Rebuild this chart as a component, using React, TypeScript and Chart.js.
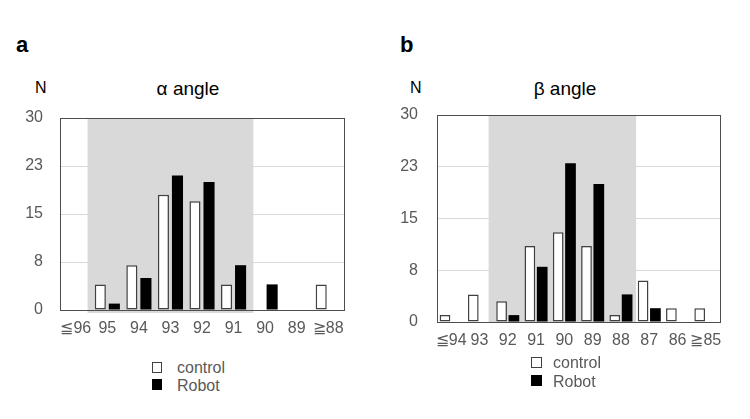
import React, { useEffect, useRef } from 'react';
import { Chart, registerables } from 'chart.js';

Chart.register(...registerables);

const FONT = '"Liberation Sans", Arial, Helvetica, sans-serif';

// Panel a: α angle
const alphaCategories = ['≦96', '95', '94', '93', '92', '91', '90', '89', '≧88'];
const alphaControl = [0, 4, 7, 18, 17, 4, 0, 0, 4];
const alphaRobot = [0, 1, 5, 21, 20, 7, 4, 0, 0];

// Panel b: β angle
const betaCategories = ['≦94', '93', '92', '91', '90', '89', '88', '87', '86', '≧85'];
const betaControl = [1, 4, 3, 11, 13, 11, 1, 6, 2, 2];
const betaRobot = [0, 0, 1, 8, 23, 20, 4, 2, 0, 0];

// Shared y axis
const yTickValues = [0, 7.5, 15, 22.5, 30];
const yTickLabels = ['0', '8', '15', '23', '30'];

const seriesNames = ['control', 'Robot'];

type PanelOpts = {
  categories: string[];
  control: number[];
  robot: number[];
  shadeFrom: number;
  shadeTo: number;
  shadePadL: number;
  shadePadR: number;
  shadeBelow: number;
  yWidth: number;
  yPad: number;
  padTop: number;
  padRight: number;
  catPct: number;
  barPct: number;
};

function buildConfig(o: PanelOpts): any {
  const shadePlugin = {
    id: 'shade',
    beforeDatasetsDraw(chart: any) {
      const { ctx, chartArea, scales } = chart;
      const xs = scales.x;
      const cw = xs.width / o.categories.length;
      const x0 = xs.getPixelForValue(o.shadeFrom) - cw / 2 - o.shadePadL;
      const x1 = xs.getPixelForValue(o.shadeTo) + cw / 2 + o.shadePadR;
      ctx.save();
      ctx.fillStyle = '#d9d9d9';
      ctx.fillRect(x0, chartArea.top, x1 - x0, chartArea.bottom - chartArea.top + o.shadeBelow);
      ctx.restore();
    },
  };
  const framePlugin = {
    id: 'frame',
    afterDatasetsDraw(chart: any) {
      const { ctx, chartArea } = chart;
      ctx.save();
      ctx.strokeStyle = '#4d4d4d';
      ctx.lineWidth = 1;
      ctx.strokeRect(
        Math.round(chartArea.left) + 0.5,
        Math.round(chartArea.top) + 0.5,
        Math.round(chartArea.right - chartArea.left),
        Math.round(chartArea.bottom - chartArea.top)
      );
      ctx.restore();
    },
  };
  return {
    type: 'bar',
    data: {
      labels: o.categories,
      datasets: [
        {
          label: seriesNames[0],
          data: o.control.map((v) => (v === 0 ? null : v)),
          backgroundColor: '#ffffff',
          borderColor: '#404040',
          borderWidth: 1.5,
          borderSkipped: false,
          categoryPercentage: o.catPct,
          barPercentage: o.barPct,
        },
        {
          label: seriesNames[1],
          data: o.robot.map((v) => (v === 0 ? null : v)),
          backgroundColor: '#000000',
          borderColor: '#000000',
          borderWidth: 0,
          categoryPercentage: o.catPct,
          barPercentage: o.barPct,
        },
      ],
    },
    options: {
      animation: false,
      responsive: false,
      maintainAspectRatio: false,
      layout: { padding: { top: o.padTop, right: o.padRight, left: 0, bottom: 0 } },
      plugins: {
        legend: { display: false },
        title: { display: false },
        tooltip: { enabled: false },
      },
      scales: {
        x: {
          grid: { display: false, drawTicks: false },
          border: { display: true, color: '#4d4d4d', width: 1 },
          ticks: {
            color: '#595959',
            font: { size: 16, family: FONT },
            padding: 9,
            maxRotation: 0,
            autoSkip: false,
          },
          afterFit: (s: any) => {
            s.height = 35;
          },
        },
        y: {
          min: 0,
          max: 30,
          afterBuildTicks: (s: any) => {
            s.ticks = yTickValues.map((v) => ({ value: v }));
          },
          grid: {
            color: '#d9d9d9',
            drawTicks: true,
            tickLength: o.yPad,
            tickColor: 'rgba(0,0,0,0)',
            lineWidth: 1,
          },
          border: { display: true, color: '#4d4d4d', width: 1 },
          ticks: {
            color: '#595959',
            font: { size: 16, family: FONT },
            padding: 0,
            callback: (_v: any, i: number) => yTickLabels[i],
          },
          afterFit: (s: any) => {
            s.width = o.yWidth;
          },
        },
      },
    },
    plugins: [shadePlugin, framePlugin],
  };
}

function Panel(props: { opts: PanelOpts; left: number; top: number; width: number; height: number }) {
  const ref = useRef<HTMLCanvasElement | null>(null);
  useEffect(() => {
    if (!ref.current) return;
    const chart = new Chart(ref.current, buildConfig(props.opts));
    return () => chart.destroy();
  }, []);
  return (
    <canvas
      ref={ref}
      width={props.width}
      height={props.height}
      style={{ position: 'absolute', left: props.left, top: props.top, width: props.width, height: props.height }}
    />
  );
}

function Text(props: { left: number; top: number; size: number; bold?: boolean; color?: string; children: any; center?: boolean }) {
  return (
    <div
      style={{
        position: 'absolute',
        left: props.left,
        top: props.top,
        fontSize: props.size,
        lineHeight: props.size + 'px',
        fontWeight: props.bold ? 700 : 400,
        color: props.color || '#000',
        whiteSpace: 'nowrap',
        transform: props.center ? 'translateX(-50%)' : undefined,
      }}
    >
      {props.children}
    </div>
  );
}

function Legend(props: { boxLeft: number; boxTops: number[]; textLeft: number; textTops: number[]; boxW: number; boxH: number }) {
  return (
    <>
      {seriesNames.map((name, i) => (
        <React.Fragment key={name}>
          <div
            style={{
              position: 'absolute',
              left: props.boxLeft,
              top: props.boxTops[i],
              width: props.boxW,
              height: props.boxH,
              boxSizing: 'border-box',
              border: '1px solid ' + (i === 0 ? '#404040' : '#000'),
              background: i === 0 ? '#fff' : '#000',
            }}
          />
          <Text left={props.textLeft} top={props.textTops[i]} size={16} color="#595959">
            {name}
          </Text>
        </React.Fragment>
      ))}
    </>
  );
}

const alphaOpts: PanelOpts = {
  categories: alphaCategories,
  control: alphaControl,
  robot: alphaRobot,
  shadeFrom: 1,
  shadeTo: 5,
  shadePadL: 4,
  shadePadR: 4,
  shadeBelow: 3,
  yWidth: 60,
  yPad: 17,
  padTop: 18,
  padRight: 26,
  catPct: 0.89,
  barPct: 0.79,
};

const betaOpts: PanelOpts = {
  categories: betaCategories,
  control: betaControl,
  robot: betaRobot,
  shadeFrom: 2,
  shadeTo: 6,
  shadePadL: 5,
  shadePadR: 1,
  shadeBelow: 0,
  yWidth: 62,
  yPad: 19,
  padTop: 15,
  padRight: 25,
  catPct: 0.87,
  barPct: 0.87,
};

export default function App() {
  return (
    <div
      style={{
        position: 'fixed',
        left: 0,
        top: 0,
        width: 750,
        height: 419,
        background: '#fff',
        fontFamily: FONT,
        overflow: 'hidden',
      }}
    >
      <Text left={16} top={34} size={22} bold>
        a
      </Text>
      <Text left={400} top={34} size={22} bold>
        b
      </Text>
      <Text left={35} top={79.5} size={16}>
        N
      </Text>
      <Text left={410} top={79.5} size={16}>
        N
      </Text>
      <Text left={188} top={79} size={19} center>
        α angle
      </Text>
      <Text left={565} top={79} size={19} center>
        β angle
      </Text>

      <Panel opts={alphaOpts} left={0} top={100} width={370} height={245} />
      <Panel opts={betaOpts} left={375} top={100} width={370} height={257} />

      <Legend boxLeft={152} boxTops={[362, 379]} textLeft={177} textTops={[359.5, 377.5]} boxW={10} boxH={11} />
      <Legend boxLeft={531} boxTops={[357, 375]} textLeft={553} textTops={[354.5, 374]} boxW={11} boxH={11} />
    </div>
  );
}
